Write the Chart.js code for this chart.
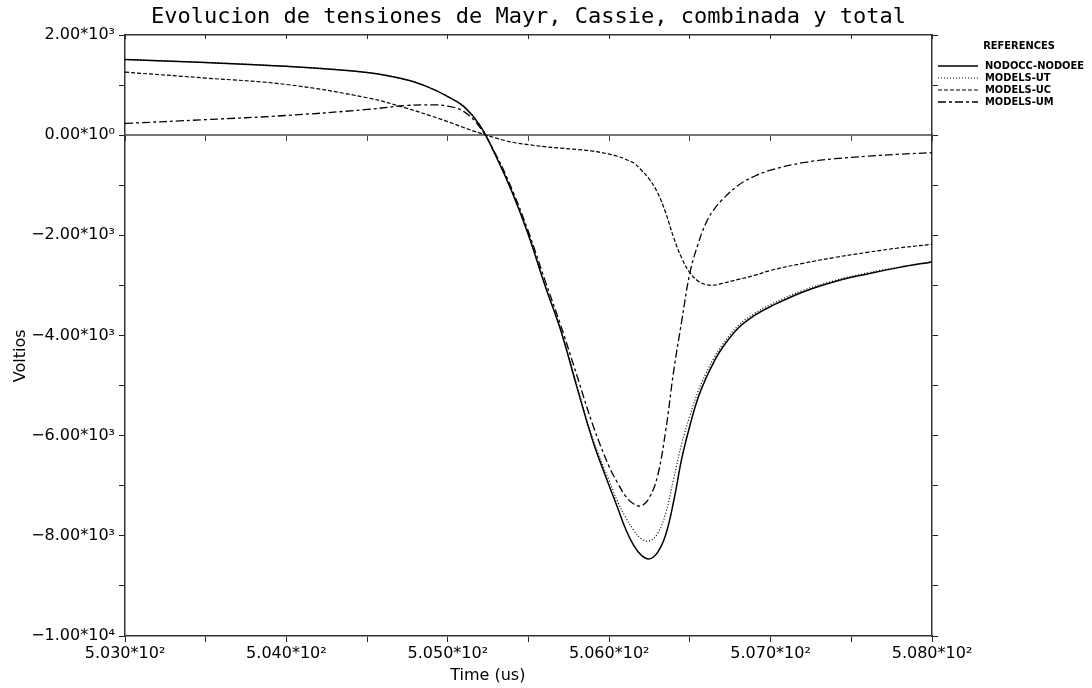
<!DOCTYPE html>
<html>
<head>
<meta charset="utf-8">
<script src="https://cdn.jsdelivr.net/npm/chart.js@4.4.1/dist/chart.umd.min.js"></script>
<style>
  html, body { margin: 0; padding: 0; background: #fff; }
  #marco { width: 1092px; height: 688px; }
</style>
</head>
<body>
<div id="marco"><canvas id="grafico"></canvas></div>
<script>
// Datos (tiempo en us, tension en V)
const tiempos = [503.0, 503.5, 504.0, 504.5, 504.75, 504.9, 505.0, 505.1, 505.2, 505.3,
  505.4, 505.5, 505.6, 505.7, 505.8, 505.9, 506.0, 506.05, 506.1, 506.15,
  506.2, 506.25, 506.3, 506.35, 506.4, 506.45, 506.5, 506.55, 506.6, 506.65,
  506.7, 506.8, 506.9, 507.0, 507.2, 507.4, 507.6, 507.8, 508.0];

const nodoccNodoee = [1510, 1450, 1375, 1250, 1100, 930, 770, 570, 190, -430,
  -1150, -2000, -2980, -3900, -5030, -6120, -7000, -7420, -7850, -8180,
  -8390, -8460, -8330, -7980, -7300, -6450, -5800, -5250, -4850, -4520,
  -4250, -3850, -3600, -3420, -3130, -2920, -2770, -2640, -2530];

const modelsUT = [1510, 1450, 1375, 1250, 1100, 930, 770, 570, 190, -430,
  -1150, -2000, -2980, -3900, -5000, -6080, -6900, -7300, -7620, -7880,
  -8060, -8100, -7950, -7550, -6850, -6150, -5600, -5120, -4750, -4440,
  -4190, -3800, -3560, -3380, -3100, -2900, -2750, -2630, -2525];

const modelsUC = [1258, 1140, 1012, 747, 533, 380, 270, 150, 40, -60,
  -140, -190, -230, -260, -285, -320, -380, -420, -480, -552,
  -700, -885, -1150, -1550, -2050, -2460, -2748, -2910, -2985, -2995,
  -2960, -2880, -2800, -2700, -2560, -2440, -2340, -2250, -2180];

const modelsUM = [234, 310, 393, 513, 593, 605, 580, 470, 150, -400,
  -1100, -1930, -2880, -3800, -4800, -5800, -6620, -6930, -7200, -7360,
  -7400, -7230, -6800, -5900, -4700, -3700, -2750, -2180, -1750, -1480,
  -1290, -1000, -820, -700, -550, -470, -420, -380, -350];

const nombresSeries = ['NODOCC-NODOEE', 'MODELS-UT', 'MODELS-UC', 'MODELS-UM'];
const trazos = [[], [1, 2], [4, 2], [8, 3, 3, 3]];
const grosores = [1.5, 1.2, 1.2, 1.3];

const superindices = { '0': '⁰', '1': '¹', '2': '²', '3': '³', '4': '⁴', '5': '⁵', '-': '⁻' };

function formatoCientifico(v, dec) {
    if (Math.abs(v) < 1e-9) return (0).toFixed(dec) + '*10⁰';
    const e = Math.floor(Math.log10(Math.abs(v)) + 1e-9);
    const m = v / Math.pow(10, e);
    const signo = m < 0 ? '−' : '';
    const exp = String(e).split('').map(c => superindices[c]).join('');
    return signo + Math.abs(m).toFixed(dec) + '*10' + exp;
}

function serie(valores) {
    return valores.map((v, i) => ({ x: tiempos[i], y: v }));
}

const series = [nodoccNodoee, modelsUT, modelsUC, modelsUM];

// Leyenda "REFERENCES" a la derecha
const leyendaReferencias = {
    id: 'leyendaReferencias',
    afterDraw(chart) {
        const ctx = chart.ctx;
        const x0 = chart.chartArea.right + 6;
        ctx.save();
        ctx.fillStyle = '#000';
        ctx.font = 'bold 11px "DejaVu Sans Condensed", "Liberation Sans Narrow", "DejaVu Sans", sans-serif';
        ctx.textBaseline = 'middle';
        ctx.textAlign = 'center';
        ctx.fillText('REFERENCES', x0 + 81, 46, 90);
        chart.data.datasets.forEach((ds, i) => {
            const y = 66 + i * 12;
            ctx.strokeStyle = ds.borderColor;
            ctx.lineWidth = ds.borderWidth;
            ctx.setLineDash(ds.borderDash || []);
            ctx.beginPath();
            ctx.moveTo(x0, y);
            ctx.lineTo(x0 + 40, y);
            ctx.stroke();
            ctx.setLineDash([]);
            ctx.textAlign = 'left';
            ctx.fillText(ds.label, x0 + 47, y, 104);
        });
        ctx.restore();
    }
};

const fuenteTicks = { family: '"DejaVu Sans", sans-serif', size: 16 };

function etiquetaX(v) {
    return Math.abs(v - Math.round(v)) < 1e-6 ? formatoCientifico(v, 3) : '';
}

function etiquetaY(v) {
    return Math.abs(v % 2000) < 1e-6 ? formatoCientifico(v, 2) : '';
}

// los titulos de eje del original no estan centrados; se compensa con espacios
const relleno = n => '\u00a0'.repeat(n);

new Chart(document.getElementById('grafico'), {
    type: 'line',
    data: {
        datasets: series.map((valores, i) => ({
            label: nombresSeries[i],
            data: serie(valores),
            borderColor: '#000',
            borderWidth: grosores[i],
            borderDash: trazos[i],
            pointRadius: 0,
            fill: false,
            tension: 0.4
        }))
    },
    options: {
        responsive: true,
        maintainAspectRatio: false,
        animation: false,
        layout: { padding: { left: 0, right: 154, top: 0, bottom: 0 } },
        plugins: {
            legend: { display: false },
            tooltip: { enabled: false },
            title: {
                display: true,
                text: 'Evolucion de tensiones de Mayr, Cassie, combinada y total',
                color: '#000',
                fullSize: false,
                font: { family: '"DejaVu Sans Mono", monospace', size: 22, weight: 'normal', lineHeight: 1.2 },
                padding: { top: 4, bottom: 4.6 }
            }
        },
        scales: {
            x: {
                type: 'linear',
                position: 'bottom',
                min: 503, max: 508,
                ticks: {
                    stepSize: 0.5, autoSkip: false, maxRotation: 0,
                    color: '#000', font: fuenteTicks, padding: 2,
                    callback: etiquetaX
                },
                grid: { drawOnChartArea: false, drawTicks: true, tickLength: 6, tickColor: '#222' },
                border: { display: true, color: '#333', width: 1.5 },
                title: {
                    display: true, text: 'Time (us)' + relleno(16), color: '#000',
                    font: { family: '"DejaVu Sans", sans-serif', size: 16 },
                    padding: { top: 0, bottom: 3 }
                },
                afterFit(scale) { scale.height = 52; }
            },
            xArriba: {
                type: 'linear',
                position: 'top',
                min: 503, max: 508,
                ticks: { stepSize: 0.5, display: false, autoSkip: false },
                grid: { drawOnChartArea: false, drawTicks: true, tickLength: -4, tickColor: '#222' },
                border: { display: true, color: '#333', width: 1.5 },
                afterFit(scale) { scale.height = 0; }
            },
            xCero: {
                type: 'linear',
                position: { y: 0 },
                min: 503, max: 508,
                ticks: { stepSize: 0.5, display: false, autoSkip: false },
                grid: { drawOnChartArea: false, drawTicks: true, tickLength: 5, tickColor: '#444' },
                border: { display: true, color: '#777', width: 2 }
            },
            y: {
                type: 'linear',
                position: 'left',
                min: -10000, max: 2000,
                ticks: {
                    stepSize: 1000, autoSkip: false,
                    color: '#000', font: fuenteTicks, padding: 4,
                    callback: etiquetaY
                },
                grid: { drawOnChartArea: false, drawTicks: true, tickLength: 6, tickColor: '#222' },
                border: { display: true, color: '#333', width: 1.5 },
                title: {
                    display: true, text: 'Voltios' + relleno(8), color: '#000',
                    font: { family: '"DejaVu Sans", sans-serif', size: 16 },
                    padding: { top: 11, bottom: 0 }
                },
                afterFit(scale) { scale.width = 125; }
            },
            yDerecha: {
                type: 'linear',
                position: 'right',
                min: -10000, max: 2000,
                ticks: { stepSize: 1000, display: false, autoSkip: false },
                grid: { drawOnChartArea: false, drawTicks: true, tickLength: 6, tickColor: '#222' },
                border: { display: true, color: '#333', width: 1.5 }
            }
        }
    },
    plugins: [leyendaReferencias]
});
</script>
</body>
</html>
